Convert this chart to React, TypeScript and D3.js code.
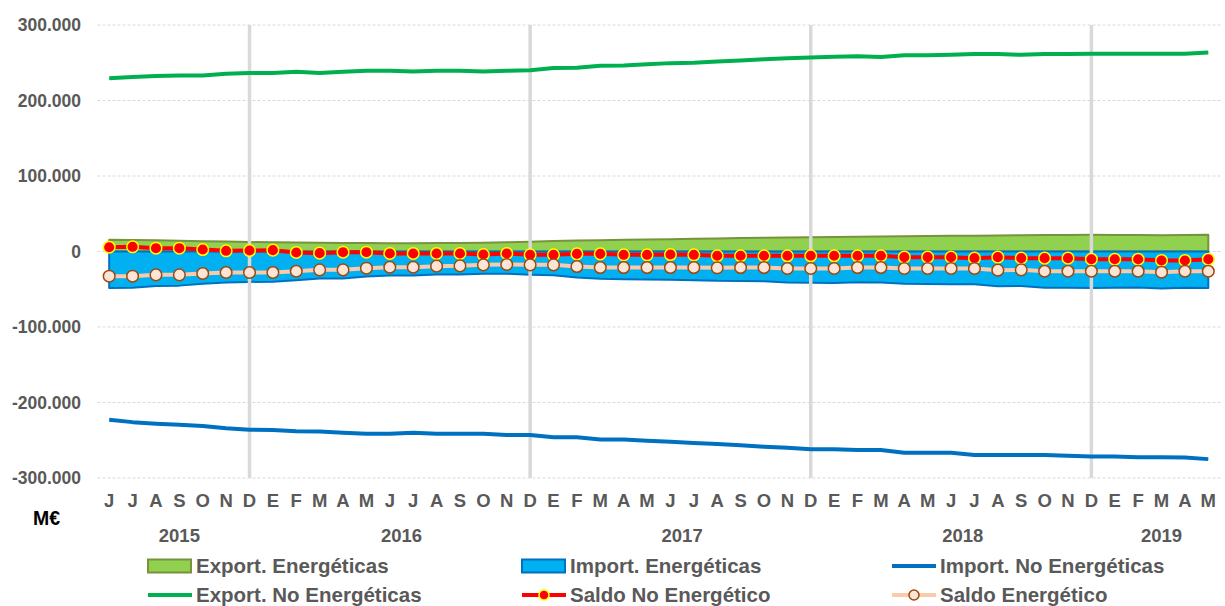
import React from 'react';
import * as d3 from 'd3';

const months = ['J','J','A','S','O','N','D','E','F','M','A','M','J','J','A','S','O','N','D','E','F','M','A','M','J','J','A','S','O','N','D','E','F','M','A','M','J','J','A','S','O','N','D','E','F','M','A','M'];
const years = [
  { label: '2015', from: 0, to: 6 },
  { label: '2016', from: 7, to: 18 },
  { label: '2017', from: 19, to: 30 },
  { label: '2018', from: 31, to: 42 },
  { label: '2019', from: 43, to: 47 },
];
const decemberIdx = [6, 18, 30, 42];
const yTicks = [300000, 200000, 100000, 0, -100000, -200000, -300000];

const exportEnerg = [15500,15200,14800,14300,13700,13100,12500,12200,11900,11600,11300,11100,11000,11000,11100,11300,11700,12300,13000,13800,14500,15000,15500,15900,16300,16800,17300,17800,18300,18700,19000,19300,19600,19900,20200,20500,20800,21000,21300,21500,21800,22000,22100,22000,21700,21600,21800,22100];
const importEnerg = [-48200,-47900,-45700,-45200,-42800,-40900,-40300,-40000,-38000,-35900,-35600,-33200,-31800,-31800,-30500,-30300,-29400,-29500,-30700,-31500,-34400,-36200,-36700,-37100,-37500,-38000,-38900,-39000,-39500,-41200,-41500,-41800,-40800,-41100,-42700,-43000,-43300,-43500,-46000,-45800,-47900,-48100,-48200,-48100,-47800,-49000,-47900,-48200];
const importNoEnerg = [-223000,-226000,-228000,-229500,-231000,-234000,-236000,-236500,-238000,-238500,-240000,-241500,-241500,-240000,-241500,-241500,-241500,-243000,-243000,-246000,-246000,-249000,-249000,-250500,-252000,-253500,-255000,-256500,-258500,-260000,-262000,-262000,-263000,-263000,-266500,-266500,-266500,-269500,-269500,-269500,-269500,-270500,-271500,-271500,-272500,-272500,-273000,-275000];
const exportNoEnerg = [229500,231000,232500,233000,233000,235500,236500,236500,238000,236500,238000,239500,239500,238500,239500,239500,238500,239500,240000,243000,243500,246000,246500,248000,249500,250000,251500,253000,254500,256000,257000,258000,258500,257500,260000,260000,260500,261500,261500,260500,261500,261500,261800,261800,261800,261800,262000,263500];
const saldoNoEnerg = [5700,6200,4400,4400,2600,900,1300,1800,-1300,-2200,-900,-900,-2600,-2600,-2600,-2600,-4000,-2600,-4400,-4400,-3100,-3100,-4400,-4400,-4000,-4400,-5700,-5700,-5700,-5700,-5700,-5700,-5700,-5700,-7500,-7500,-7500,-8800,-7500,-8800,-8800,-8800,-10200,-10200,-10200,-11900,-11900,-10200];
const saldoEnerg = [-32700,-32700,-30900,-30900,-29100,-27800,-27800,-27800,-26100,-24300,-24300,-22100,-20800,-20800,-19400,-19000,-17700,-17200,-17700,-17700,-19900,-21200,-21200,-21200,-21200,-21200,-21600,-21200,-21200,-22500,-22500,-22500,-21200,-21200,-22500,-22500,-22500,-22500,-24700,-24300,-26100,-26100,-26100,-26100,-26100,-27400,-26100,-26100];

const W = 1225;
const H = 606;
const FONT = '"Liberation Sans", Arial, sans-serif';
const GRAY = '#595959';

export default function App() {
  const idx = d3.range(months.length);
  const x = d3.scaleBand<number>().domain(idx).range([97.5, 1220]).padding(0);
  const bw = x.bandwidth();
  const cx = (i: number) => (x(i) as number) + bw / 2;
  const y = d3.scaleLinear().domain([-300000, 300000]).range([478, 25]);
  const fmt = d3.formatLocale({ decimal: ',', thousands: '.', grouping: [3], currency: ['', '€'], minus: '-' }).format(',');

  const area = d3.area<number>().x((_, i) => cx(i)).y0(y(0)).y1((d) => y(d));
  const line = d3.line<number>().x((_, i) => cx(i)).y((d) => y(d));

  const legendTextStyle = { fontFamily: FONT, fontWeight: 700, fontSize: 20.5, fill: GRAY } as const;

  return (
    <svg width={W} height={H} style={{ position: 'absolute', left: 0, top: 0, background: '#fff' }}>
      {yTicks.map((t) => (
        <line key={t} x1={97.5} x2={1222} y1={y(t)} y2={y(t)} stroke="#D9D9D9" strokeWidth={1} strokeDasharray="3,2" />
      ))}
      {yTicks.map((t) => (
        <text key={'l' + t} x={81} y={y(t)} dy="0.36em" textAnchor="end" style={{ fontFamily: FONT, fontWeight: 700, fontSize: 17.5, fill: GRAY }}>
          {fmt(t)}
        </text>
      ))}
      <path d={area(exportEnerg) + 'Z'} fill="#92D050" stroke="#77933C" strokeWidth={2} strokeLinejoin="round" />
      <path d={area(importEnerg) + 'Z'} fill="#00B0F0" stroke="#0070C0" strokeWidth={2} strokeLinejoin="round" />
      {decemberIdx.map((i) => (
        <line key={'v' + i} x1={cx(i)} x2={cx(i)} y1={y(300000)} y2={y(-300000)} stroke="#D9D9D9" strokeWidth={3.5} />
      ))}
      <path d={line(exportNoEnerg) as string} fill="none" stroke="#00B050" strokeWidth={4} strokeLinejoin="round" />
      <path d={line(importNoEnerg) as string} fill="none" stroke="#0070C0" strokeWidth={4} strokeLinejoin="round" />
      <path d={line(saldoNoEnerg) as string} fill="none" stroke="#FF0000" strokeWidth={4} strokeLinejoin="round" />
      {saldoNoEnerg.map((d, i) => (
        <circle key={'r' + i} cx={cx(i)} cy={y(d)} r={5.8} fill="#FF0000" stroke="#FFFF00" strokeWidth={1.5} />
      ))}
      <path d={line(saldoEnerg) as string} fill="none" stroke="#F8CBAD" strokeWidth={4} strokeLinejoin="round" />
      {saldoEnerg.map((d, i) => (
        <circle key={'p' + i} cx={cx(i)} cy={y(d)} r={5.8} fill="#FBE5D6" stroke="#9E480E" strokeWidth={1.5} />
      ))}
      {months.map((m, i) => (
        <text key={'m' + i} x={cx(i)} y={500} dy="0.36em" textAnchor="middle" style={{ fontFamily: FONT, fontWeight: 700, fontSize: 18.5, fill: GRAY }}>
          {m}
        </text>
      ))}
      {years.map((yr) => {
        const x0 = x(yr.from) as number;
        const x1 = (x(yr.to) as number) + bw;
        return (
          <text key={yr.label} x={(x0 + x1) / 2} y={535} dy="0.36em" textAnchor="middle" style={{ fontFamily: FONT, fontWeight: 700, fontSize: 18.5, fill: GRAY }}>
            {yr.label}
          </text>
        );
      })}
      <text x={33} y={518} dy="0.36em" style={{ fontFamily: FONT, fontWeight: 700, fontSize: 19.5, fill: '#000' }}>M€</text>

      <g>
        <rect x={148} y={559.5} width={43} height={13} fill="#92D050" stroke="#77933C" strokeWidth={2} />
        <text x={196} y={566} dy="0.36em" style={legendTextStyle}>Export. Energéticas</text>
        <rect x={522} y={559.5} width={43} height={13} fill="#00B0F0" stroke="#0070C0" strokeWidth={2} />
        <text x={570} y={566} dy="0.36em" style={legendTextStyle}>Import. Energéticas</text>
        <line x1={892} x2={936} y1={566} y2={566} stroke="#0070C0" strokeWidth={4} />
        <text x={940} y={566} dy="0.36em" style={legendTextStyle}>Import. No Energéticas</text>

        <line x1={148} x2={192} y1={595} y2={595} stroke="#00B050" strokeWidth={4} />
        <text x={196} y={595} dy="0.36em" style={legendTextStyle}>Export. No Energéticas</text>
        <line x1={522} x2={566} y1={595} y2={595} stroke="#FF0000" strokeWidth={4} />
        <circle cx={544} cy={595} r={5} fill="#FF0000" stroke="#FFFF00" strokeWidth={1.5} />
        <text x={570} y={595} dy="0.36em" style={legendTextStyle}>Saldo No Energético</text>
        <line x1={892} x2={936} y1={595} y2={595} stroke="#F8CBAD" strokeWidth={4} />
        <circle cx={914} cy={595} r={5} fill="#FBE5D6" stroke="#9E480E" strokeWidth={1.5} />
        <text x={940} y={595} dy="0.36em" style={legendTextStyle}>Saldo Energético</text>
      </g>
    </svg>
  );
}
